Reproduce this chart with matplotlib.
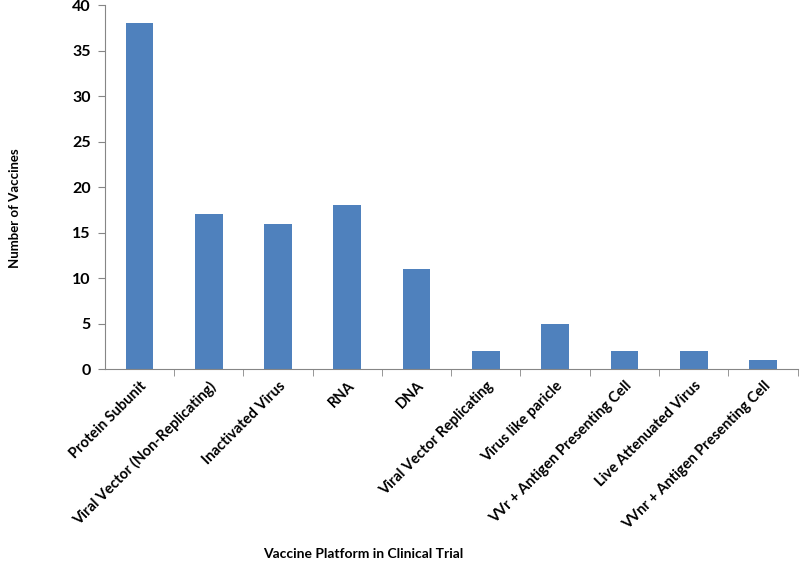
import matplotlib
matplotlib.use('Agg')
import matplotlib.pyplot as plt

categorias = ['Protein Subunit', 'Viral Vector (Non-Replicating)', 'Inactivated Virus',
              'RNA', 'DNA', 'Viral Vector Replicating', 'Virus like paricle',
              'VVr + Antigen Presenting Cell', 'Live Attenuated Virus',
              'VVnr + Antigen Presenting Cell']
n_vacinas = [38, 17, 16, 18, 11, 2, 5, 2, 2, 1]
yticks = [0, 5, 10, 15, 20, 25, 30, 35, 40]

plt.rcParams['font.family'] = ['Lato', 'DejaVu Sans']
plt.rcParams['font.weight'] = 'bold'

fig = plt.figure(figsize=(8, 5.61), dpi=100)
ax = fig.add_axes([0.131, 0.342, 0.866, 0.649])

x = list(range(len(categorias)))
ax.bar(x, n_vacinas, width=0.4, color='#4F81BD')

ax.set_xlim(-0.5, len(categorias) - 0.5)
ax.set_ylim(0, 40)
ax.set_yticks(yticks)
ax.set_yticklabels([str(v) for v in yticks], fontsize=11.5, fontweight='bold')

ax.set_xticks(x)
ax.set_xticklabels(categorias, rotation=45, ha='right', rotation_mode='anchor',
                   fontsize=10.5, fontweight='bold')
ax.tick_params(axis='x', length=0, pad=7)
# marcas entre categorias
ax.set_xticks([i + 0.5 for i in x], minor=True)
ax.tick_params(axis='x', which='minor', length=5, color='#868686')
ax.tick_params(axis='y', length=5, color='#868686', direction='out', pad=5)

for s in ['top', 'right']:
    ax.spines[s].set_visible(False)
for s in ['left', 'bottom']:
    ax.spines[s].set_color('#868686')

fig.text(0.019, 0.629, 'Number of Vaccines', rotation=90, ha='center', va='center',
         fontsize=9.5, fontweight='bold')
fig.text(0.454, 0.012, 'Vaccine Platform in Clinical Trial', ha='center', va='center',
         fontsize=10, fontweight='bold')

plt.savefig('out.png', dpi=100)
plt.close()
